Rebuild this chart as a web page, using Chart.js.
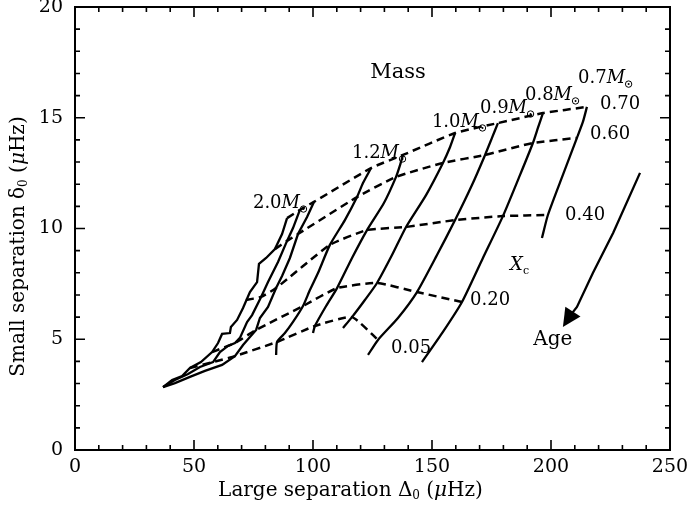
<!DOCTYPE html>
<html>
<head>
<meta charset="utf-8">
<script src="https://cdn.jsdelivr.net/npm/chart.js@4.4.0/dist/chart.umd.min.js"></script>
<style>
  html, body { margin: 0; padding: 0; background: #fff; }
</style>
</head>
<body>
<canvas id="cdChart" width="690" height="519"></canvas>
<script>
// evolutionary tracks: large separation (x) and small separation (y), from ZAMS down
const track1Large = [89.1, 87.0, 84.0, 80.3, 77.3, 76.5, 73.5, 70.6, 68.1, 65.5, 65.1, 61.8, 60.1, 57.6, 52.9, 48.3, 45.0, 40.8, 37.0];
const track1Small = [10.47, 9.75, 9.07, 8.67, 8.40, 7.58, 7.13, 6.41, 5.87, 5.55, 5.28, 5.24, 4.83, 4.42, 3.97, 3.70, 3.34, 3.16, 2.84];
const track2Large = [94.5, 91.6, 89.1, 85.3, 81.1, 78.2, 74.4, 72.3, 69.3, 67.2, 64.3, 60.9, 58.0, 52.5, 47.5, 42.0, 37.0];
const track2Small = [10.84, 10.02, 9.44, 8.49, 7.58, 6.91, 6.09, 5.78, 5.06, 4.83, 4.70, 4.42, 3.97, 3.75, 3.43, 3.16, 2.84];
const track3Large = [100.4, 97.5, 93.7, 90.3, 87.0, 84.5, 81.1, 77.7, 76.1, 73.5, 70.6, 67.2, 61.8, 54.6, 48.3, 42.0, 37.0];
const track3Small = [11.20, 10.52, 9.75, 8.67, 7.86, 7.31, 6.46, 5.96, 5.42, 5.10, 4.74, 4.24, 3.84, 3.57, 3.30, 3.02, 2.84];
const track4Large = [124.4, 121.0, 118.5, 113.4, 107.1, 102.1, 98.7, 95.8, 91.6, 88.2, 84.9, 84.5];
const track4Small = [12.73, 12.05, 11.42, 10.38, 9.26, 7.99, 7.22, 6.50, 5.78, 5.28, 4.88, 4.29];
const track5Large = [137.8, 136.6, 134.9, 129.8, 122.7, 116.4, 110.1, 105.5, 100.8, 100.0];
const track5Small = [13.32, 12.87, 12.33, 11.15, 9.93, 8.67, 7.31, 6.50, 5.60, 5.28];
const track6Large = [159.7, 157.6, 154.6, 147.5, 139.1, 133.2, 126.9, 121.8, 116.4, 112.6];
const track6Small = [14.31, 13.68, 12.96, 11.51, 10.07, 8.80, 7.54, 6.77, 6.00, 5.51];
const track7Large = [177.7, 175.2, 172.3, 166.8, 159.7, 152.1, 143.7, 135.7, 127.3, 123.1];
const track7Small = [14.76, 14.09, 13.32, 11.96, 10.38, 8.80, 7.13, 5.96, 4.97, 4.29];
const track8Large = [196.6, 194.5, 192.4, 187.0, 179.8, 171.4, 162.6, 154.6, 145.8];
const track8Small = [15.21, 14.54, 13.86, 12.42, 10.56, 8.67, 6.68, 5.33, 3.97];
const track9Large = [215.1, 213.4, 210.9, 205.0, 198.7, 196.2];
const track9Small = [15.49, 14.81, 14.09, 12.42, 10.61, 9.57];

// lines of constant central hydrogen abundance Xc
const xc70Large = [89.1, 94.5, 100.4, 124.4, 137.8, 159.7, 177.7, 196.6, 215.1];
const xc70Small = [10.47, 10.84, 11.20, 12.73, 13.32, 14.31, 14.76, 15.21, 15.49];
const xc60Large = [84.0, 89.1, 93.7, 118.5, 134.9, 154.6, 172.3, 192.4, 210.9];
const xc60Small = [9.07, 9.44, 9.75, 11.42, 12.33, 12.96, 13.32, 13.86, 14.09];
const xc40Large = [71.8, 78.2, 84.5, 107.1, 122.7, 139.1, 159.7, 179.8, 198.7];
const xc40Small = [6.77, 6.91, 7.31, 9.26, 9.93, 10.07, 10.38, 10.56, 10.61];
const xc20Large = [57.6, 67.2, 76.1, 95.8, 110.1, 126.9, 143.7, 162.6];
const xc20Small = [4.42, 4.83, 5.42, 6.50, 7.31, 7.54, 7.13, 6.68];
const xc05Large = [48.3, 58.0, 67.2, 84.9, 100.8, 116.4, 127.3];
const xc05Small = [3.70, 3.97, 4.24, 4.88, 5.60, 6.00, 4.97];

const massNames = ['2.0', '1.2', '1.0', '0.9', '0.8', '0.7'];
const xcNames = ['0.70', '0.60', '0.40', '0.20', '0.05'];

const xTickValues = [0, 50, 100, 150, 200, 250];
const yTickValues = [0, 5, 10, 15, 20];

const SERIF = '"DejaVu Serif", serif';

function pts(xs, ys) { return xs.map((x, i) => ({ x: x, y: ys[i] })); }

const tracks = [
  [track1Large, track1Small, 0], [track2Large, track2Small, 0], [track3Large, track3Small, 0],
  [track4Large, track4Small, 0.2], [track5Large, track5Small, 0.2], [track6Large, track6Small, 0.2],
  [track7Large, track7Small, 0.2], [track8Large, track8Small, 0.2], [track9Large, track9Small, 0.2]
];
const isolines = [
  [xc70Large, xc70Small], [xc60Large, xc60Small], [xc40Large, xc40Small],
  [xc20Large, xc20Small], [xc05Large, xc05Small]
];

const datasets = [];
tracks.forEach(t => datasets.push({
  data: pts(t[0], t[1]), showLine: true, borderColor: '#000', borderWidth: 2.3,
  pointRadius: 0, tension: t[2], fill: false
}));
isolines.forEach(t => datasets.push({
  data: pts(t[0], t[1]), showLine: true, borderColor: '#000', borderWidth: 2.5,
  borderDash: [8, 5], pointRadius: 0, tension: 0.15, fill: false
}));

// annotation anchors (data units)
const massAnchors = [[97.9, 11.15], [139.5, 13.41], [173.1, 14.81], [193.3, 15.44], [212.2, 16.03], [234.5, 16.79]];
const xcAnchors = [[220.6, 15.62], [216.4, 14.27], [205.9, 10.61], [166.0, 6.77], [132.8, 4.60]];
const agePath = [[237.4, 12.51], [226.1, 9.80], [217.6, 7.99], [210.9, 6.46], [208.3, 6.10]];
const ageTip = [205.0, 5.55];

function rich(ctx, parts, x, y, align) {
  let w = 0;
  parts.forEach(p => { ctx.font = p[1]; w += ctx.measureText(p[0]).width; });
  let cx = align === 'right' ? x - w : (align === 'center' ? x - w / 2 : x);
  parts.forEach(p => {
    ctx.font = p[1];
    ctx.fillText(p[0], cx, y + (p[2] || 0));
    cx += ctx.measureText(p[0]).width;
  });
  return cx;
}

function sun(ctx, x, y, r) {
  ctx.beginPath();
  ctx.lineWidth = 1;
  ctx.arc(x, y, r, 0, Math.PI * 2);
  ctx.stroke();
  ctx.beginPath();
  ctx.arc(x, y, 1, 0, Math.PI * 2);
  ctx.fill();
}

const decor = {
  id: 'decor',
  afterDraw(chart) {
    const ctx = chart.ctx;
    const xs = chart.scales.x, ys = chart.scales.y;
    const a = chart.chartArea;
    const px = v => xs.getPixelForValue(v), py = v => ys.getPixelForValue(v);
    ctx.save();
    ctx.strokeStyle = '#000';
    ctx.fillStyle = '#000';

    // frame
    ctx.lineWidth = 2;
    ctx.strokeRect(a.left, a.top, a.right - a.left, a.bottom - a.top);

    // inward ticks on all four sides
    ctx.lineWidth = 1.6;
    ctx.beginPath();
    for (let v = 0; v <= 250; v += 10) {
      const len = v % 50 === 0 ? 10 : 5;
      const x = px(v);
      ctx.moveTo(x, a.bottom); ctx.lineTo(x, a.bottom - len);
      ctx.moveTo(x, a.top); ctx.lineTo(x, a.top + len);
    }
    for (let v = 0; v <= 20; v += 1) {
      const len = v % 5 === 0 ? 10 : 5;
      const y = py(v);
      ctx.moveTo(a.left, y); ctx.lineTo(a.left + len, y);
      ctx.moveTo(a.right, y); ctx.lineTo(a.right - len, y);
    }
    ctx.stroke();

    ctx.textBaseline = 'middle';
    // mass labels
    massNames.forEach((m, i) => {
      const xr = px(massAnchors[i][0]), y = py(massAnchors[i][1]);
      const end = rich(ctx, [[m, '18px ' + SERIF], ['M', 'italic 18px ' + SERIF]], xr - 8, y, 'right');
      sun(ctx, end + 3.5, y + 6, 3.2);
    });
    // Xc labels
    xcNames.forEach((n, i) => {
      ctx.font = '18px ' + SERIF;
      ctx.textAlign = 'left';
      ctx.fillText(n, px(xcAnchors[i][0]), py(xcAnchors[i][1]));
    });
    ctx.textAlign = 'center';
    ctx.font = '21px ' + SERIF;
    ctx.fillText('Mass', px(135.7), py(17.02));
    ctx.font = '20px ' + SERIF;
    ctx.fillText('Age', px(200.8), py(4.97));
    ctx.textAlign = 'left';
    rich(ctx, [['X', 'italic 18px ' + SERIF], ['c', '11px ' + SERIF, 6]], px(182.8), py(8.35), 'left');

    // age arrow
    ctx.lineWidth = 2.3;
    ctx.beginPath();
    agePath.forEach((p, i) => {
      const x = px(p[0]), y = py(p[1]);
      if (i === 0) ctx.moveTo(x, y); else ctx.lineTo(x, y);
    });
    ctx.stroke();
    const bx = px(agePath[agePath.length - 1][0]), by = py(agePath[agePath.length - 1][1]);
    const tx = px(ageTip[0]), ty = py(ageTip[1]);
    const dx = tx - bx, dy = ty - by, L = Math.hypot(dx, dy);
    const nx = -dy / L, ny = dx / L, hb = 9, back = 4;
    const cx0 = bx - dx / L * back, cy0 = by - dy / L * back;
    ctx.beginPath();
    ctx.moveTo(tx, ty);
    ctx.lineTo(cx0 + nx * hb, cy0 + ny * hb);
    ctx.lineTo(cx0 - nx * hb, cy0 - ny * hb);
    ctx.closePath();
    ctx.fill();

    // axis titles
    ctx.textAlign = 'left';
    rich(ctx, [['Large separation \u0394', '20px ' + SERIF], ['0', '12px ' + SERIF, 5],
               [' (', '20px ' + SERIF], ['\u03bc', 'italic 20px ' + SERIF], ['Hz)', '20px ' + SERIF]],
         (a.left + a.right) / 2 - 22, 491, 'center');
    ctx.save();
    ctx.translate(19, (a.top + a.bottom) / 2 + 18);
    ctx.rotate(-Math.PI / 2);
    rich(ctx, [['Small separation \u03b4', '20px ' + SERIF], ['0', '12px ' + SERIF, 5],
               [' (', '20px ' + SERIF], ['\u03bc', 'italic 20px ' + SERIF], ['Hz)', '20px ' + SERIF]],
         0, 0, 'center');
    ctx.restore();
    ctx.restore();
  }
};

new Chart(document.getElementById('cdChart'), {
  type: 'scatter',
  data: { datasets: datasets },
  options: {
    responsive: false,
    devicePixelRatio: 1,
    animation: false,
    layout: { padding: { left: 0, right: 20, top: 7, bottom: 0 } },
    plugins: { legend: { display: false }, tooltip: { enabled: false } },
    scales: {
      x: {
        type: 'linear', min: 0, max: 250,
        afterBuildTicks: s => { s.ticks = xTickValues.map(v => ({ value: v })); },
        grid: { display: false, drawTicks: false },
        border: { display: false },
        ticks: { color: '#000', font: { family: SERIF, size: 19 }, padding: 6, maxRotation: 0 },
        afterFit: s => { s.height = 69; s.paddingLeft = 0; s.paddingRight = 0; }
      },
      y: {
        type: 'linear', min: 0, max: 20,
        afterBuildTicks: s => { s.ticks = yTickValues.map(v => ({ value: v })); },
        grid: { display: false, drawTicks: false },
        border: { display: false },
        ticks: { color: '#000', font: { family: SERIF, size: 19 }, padding: 12 },
        afterFit: s => { s.width = 75; s.paddingTop = 0; s.paddingBottom = 0; }
      }
    }
  },
  plugins: [decor]
});
</script>
</body>
</html>
